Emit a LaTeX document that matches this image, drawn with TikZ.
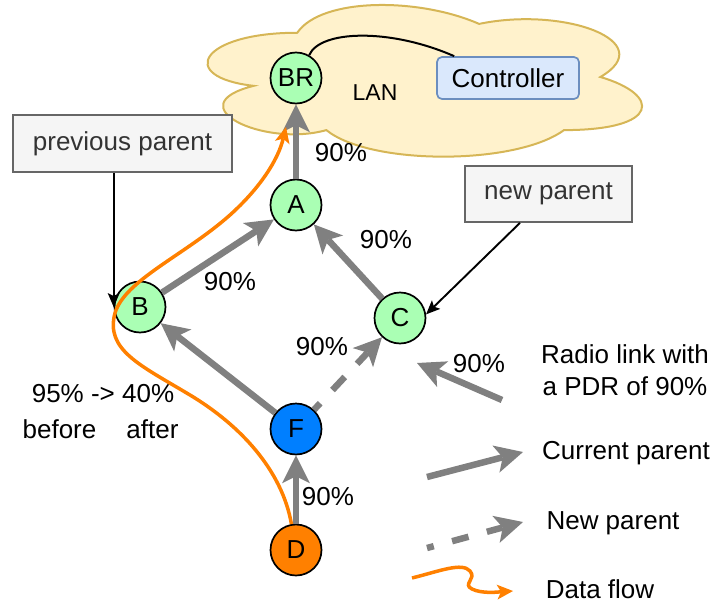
\documentclass[tikz,border=0pt]{standalone}
\usepackage{fontspec}
\setmainfont{Liberation Sans}
\usetikzlibrary{arrows.meta}
\definecolor{linkgray}{HTML}{808080}
\definecolor{floworange}{HTML}{FF8000}
\definecolor{motegreen}{RGB}{170,255,180}
\definecolor{moteblue}{HTML}{007FFF}
\definecolor{cloudfill}{HTML}{FFF2CC}
\definecolor{clouddraw}{HTML}{D6B656}
\definecolor{ctrlfill}{HTML}{DAE8FC}
\definecolor{ctrldraw}{HTML}{6C8EBF}
\definecolor{notefill}{HTML}{F5F5F5}
\definecolor{notedraw}{HTML}{666666}
\definecolor{notetext}{HTML}{333333}
\begin{document}
\begin{tikzpicture}[x=1pt,y=-1pt,
  every node/.style={font=\fontsize{26}{32}\selectfont},
  mote/.style={circle,draw=black,line width=1.7pt,minimum size=51pt,inner sep=0pt},
  link/.style={draw=linkgray,line width=6.5pt,-{Stealth[length=28pt,width=28pt,inset=7pt,line width=0pt]}},
  dlink/.style={link,dash pattern=on 18pt off 18pt,dash phase=9pt},
  flow/.style={draw=floworange,line width=3.5pt,-{Stealth[length=16pt,width=15pt,inset=4pt,line width=0pt]}},
  note/.style={draw=notedraw,fill=notefill,text=notetext,line width=1.7pt,inner sep=0pt},
  pointer/.style={draw=black,line width=1.9pt,-{Stealth[length=14pt,width=12pt,inset=3pt,line width=0pt]}}]
\useasboundingbox (0,0) rectangle (715,605);
% cloud
\draw[fill=cloudfill,draw=clouddraw,line width=2pt]
  (297.25,32.75) .. controls (200.25,32.75) and (176,77) .. (253.6,85.85)
  .. controls (176,105.32) and (263.3,147.8) .. (326.35,130.1)
  .. controls (370,165.5) and (515.5,165.5) .. (564,130.1)
  .. controls (661,130.1) and (661,94.7) .. (600.4,77)
  .. controls (661,41.6) and (564,6.2) .. (479.1,23.9)
  .. controls (418.5,-2.65) and (321.5,-2.65) .. (297.25,32.75) -- cycle;
\node (lan) at (375,93) {\fontsize{23}{28}\selectfont LAN};
\node[draw=ctrldraw,fill=ctrlfill,rounded corners=5pt,line width=1.7pt,minimum width=142pt,minimum height=42pt,inner sep=0pt] (ctrl) at (508,78) {Controller};
% motes
\node[mote,fill=motegreen] (BR) at (296,78) {BR};
\node[mote,fill=motegreen] (A) at (296,205) {A};
\node[mote,fill=motegreen] (B) at (140,307) {B};
\node[mote,fill=motegreen] (C) at (400,318) {C};
\node[mote,fill=moteblue] (F) at (296,429) {F};
\node[mote,fill=floworange] (D) at (296,550) {D};
\draw[line width=2pt] (BR.60) .. controls (320,30) and (390,28) .. ([xshift=18pt]ctrl.north west);
% links
\draw[link] (A) -- (BR);
\draw[link] (B) -- (A);
\draw[link] (C) -- (A);
\draw[link] (F) -- (B);
\draw[dlink] (F) -- (C);
\draw[link] (D) -- (F);
% link labels
\node (l1) at (341,153) {90\%};
\node (l2) at (230,282) {90\%};
\node (l3) at (386,240) {90\%};
\node (l4) at (322,347) {90\%};
\node (l5) at (328,497) {90\%};
\node (bf1) at (103,394) {95\% -> 40\%};
\node (bf2) at (59.5,429) {before};
\node (bf3) at (152.5,429) {after};
% notes
\node[note,minimum width=219pt,minimum height=57pt] (pp) at (122.5,143.5) {previous parent};
\node[note,minimum width=167pt,minimum height=56pt] (np) at (548.5,194) {new parent};
\draw[pointer] (pp.south -| B.west) -- (B.west);
\draw[pointer] ([xshift=-28.5pt]np.south) -- (C.8);
% data flow
\coordinate (flowend) at (286,127);
\draw[flow] (D.100) .. controls (282,470) and (240,425) .. (190,395)
  .. controls (140,365) and (105,350) .. (115,313)
  .. controls (125,280) and (185,255) .. (230,215)
  .. controls (260,188) and (278,160) .. (flowend);
% legend
\coordinate (lg1s) at (502,400); \coordinate (lg1e) at (417,363);
\draw[link] (lg1s) -- (lg1e);
\node (lg1l) at (479,364) {90\%};
\node[align=center] (lg1t) at (625,370) {Radio link with\\ a PDR of 90\%};
\coordinate (lg2s) at (427,477); \coordinate (lg2e) at (523,452);
\draw[link] (lg2s) -- (lg2e);
\node (lg2t) at (626,453.5) {Current parent};
\coordinate (lg3s) at (427,548); \coordinate (lg3e) at (523,522);
\draw[link,dash pattern=on 17pt off 19pt,dash phase=10pt] (lg3s) -- (lg3e);
\node (lg3t) at (613,523.5) {New parent};
\coordinate (lg4s) at (412,578); \coordinate (lg4e) at (513,591);
\draw[flow] (lg4s) .. controls (440,571) and (462,562) .. (470,571)
  .. controls (477,579) and (462,584) .. (472,589)
  .. controls (482,594) and (498,592) .. (lg4e);
\node (lg4t) at (600,589) {Data flow};
\end{tikzpicture}
\end{document}
